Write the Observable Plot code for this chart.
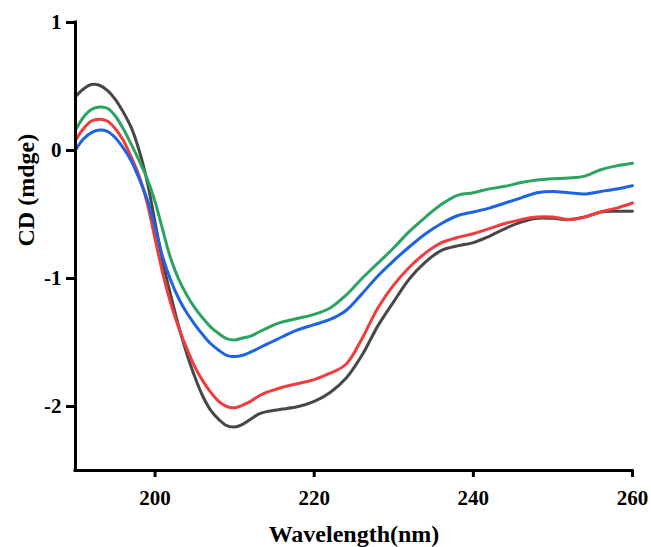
<!DOCTYPE html>
<html>
<head>
<meta charset="utf-8">
<script src="https://cdn.jsdelivr.net/npm/d3@7"></script>
<script src="https://cdn.jsdelivr.net/npm/@observablehq/plot@0.6"></script>
<style>
  html, body { margin: 0; padding: 0; background: #fff; }
</style>
</head>
<body>
<div id="chart"></div>
<script>
const wavelengths = [190,191,192,193,194,195,196,197,198,199,200,201,202,203,204,205,206,207,208,209,210,211,212,213,214,215,216,218,220,222,224,226,228,230,232,234,236,238,240,242,244,246,248,250,252,254,256,258,260];

const seriesGray  = [0.42,0.48,0.515,0.51,0.47,0.40,0.30,0.18,0.00,-0.24,-0.56,-0.88,-1.14,-1.38,-1.59,-1.77,-1.92,-2.03,-2.10,-2.15,-2.16,-2.14,-2.10,-2.06,-2.04,-2.03,-2.02,-2.00,-1.96,-1.89,-1.78,-1.60,-1.37,-1.18,-1.00,-0.87,-0.78,-0.745,-0.72,-0.67,-0.61,-0.56,-0.53,-0.53,-0.54,-0.52,-0.48,-0.475,-0.475];
const seriesRed   = [0.08,0.17,0.23,0.245,0.23,0.17,0.08,-0.05,-0.20,-0.41,-0.69,-0.97,-1.20,-1.39,-1.55,-1.69,-1.80,-1.89,-1.96,-2.00,-2.01,-1.99,-1.96,-1.92,-1.89,-1.87,-1.85,-1.82,-1.79,-1.74,-1.67,-1.47,-1.23,-1.05,-0.91,-0.80,-0.72,-0.68,-0.65,-0.61,-0.57,-0.54,-0.52,-0.52,-0.54,-0.52,-0.48,-0.45,-0.41];
const seriesGreen = [0.16,0.26,0.32,0.34,0.33,0.27,0.17,0.05,-0.08,-0.22,-0.40,-0.63,-0.85,-1.01,-1.13,-1.23,-1.31,-1.38,-1.43,-1.47,-1.48,-1.465,-1.45,-1.42,-1.39,-1.36,-1.34,-1.31,-1.28,-1.23,-1.13,-1.00,-0.88,-0.76,-0.63,-0.52,-0.42,-0.35,-0.33,-0.30,-0.28,-0.25,-0.23,-0.22,-0.215,-0.20,-0.15,-0.12,-0.10];
const seriesBlue  = [0.005,0.09,0.14,0.16,0.15,0.10,0.02,-0.08,-0.22,-0.38,-0.60,-0.84,-1.02,-1.16,-1.27,-1.36,-1.44,-1.51,-1.56,-1.60,-1.61,-1.60,-1.575,-1.545,-1.515,-1.485,-1.455,-1.40,-1.36,-1.32,-1.25,-1.12,-0.98,-0.86,-0.75,-0.65,-0.57,-0.51,-0.48,-0.45,-0.41,-0.37,-0.33,-0.32,-0.33,-0.34,-0.32,-0.30,-0.275];

const seriesNames = ["Sample 1", "Sample 2", "Sample 3", "Sample 4"];
const seriesColors = ["#474747", "#2ba462", "#f03c3c", "#1c64e4"];
const seriesValues = [seriesGray, seriesGreen, seriesRed, seriesBlue];

const xTicks = [200, 220, 240, 260];
const yTicks = [1, 0, -1, -2];
const xDomain = [190, 260];
const yDomain = [-2.5, 1];

const rows = [];
seriesNames.forEach((name, i) => {
  wavelengths.forEach((w, j) => rows.push({series: name, wavelength: w, cd: seriesValues[i][j]}));
});

const font = "'Liberation Serif', 'Times New Roman', serif";

const chart = Plot.plot({
  width: 651,
  height: 547,
  marginLeft: 75,
  marginRight: 19,
  marginTop: 22,
  marginBottom: 77,
  style: {fontFamily: font, fontWeight: "bold", fontSize: "21px", color: "#000", background: "#fff"},
  x: {domain: xDomain},
  y: {domain: yDomain},
  color: {domain: seriesNames, range: seriesColors},
  marks: [
    Plot.line(rows, {x: "wavelength", y: "cd", z: "series", stroke: "series", strokeWidth: 3, curve: "catmull-rom"}),
    Plot.ruleY([yDomain[0]], {x1: xDomain[0], x2: xDomain[1], stroke: "#000", strokeWidth: 3, strokeLinecap: "square"}),
    Plot.ruleX([xDomain[0]], {y1: yDomain[0], y2: yDomain[1], stroke: "#000", strokeWidth: 3, strokeLinecap: "square"}),
    Plot.axisX(xTicks, {tickSize: 7, tickPadding: 13, strokeWidth: 3, fontSize: 21, fontWeight: "bold", label: null}),
    Plot.axisY(yTicks, {tickSize: 9, tickPadding: 5, strokeWidth: 3, fontSize: 21, fontWeight: "bold", tickFormat: d => String(d), label: null}),
    Plot.text(["Wavelength(nm)"], {frameAnchor: "bottom", dy: 71, fontSize: 24, fontWeight: "bold", lineAnchor: "bottom", text: d => d}),
    Plot.text(["CD (mdge)"], {frameAnchor: "left", dx: -49, rotate: -90, fontSize: 24, fontWeight: "bold", text: d => d})
  ]
});
document.getElementById("chart").appendChild(chart);
</script>
</body>
</html>
